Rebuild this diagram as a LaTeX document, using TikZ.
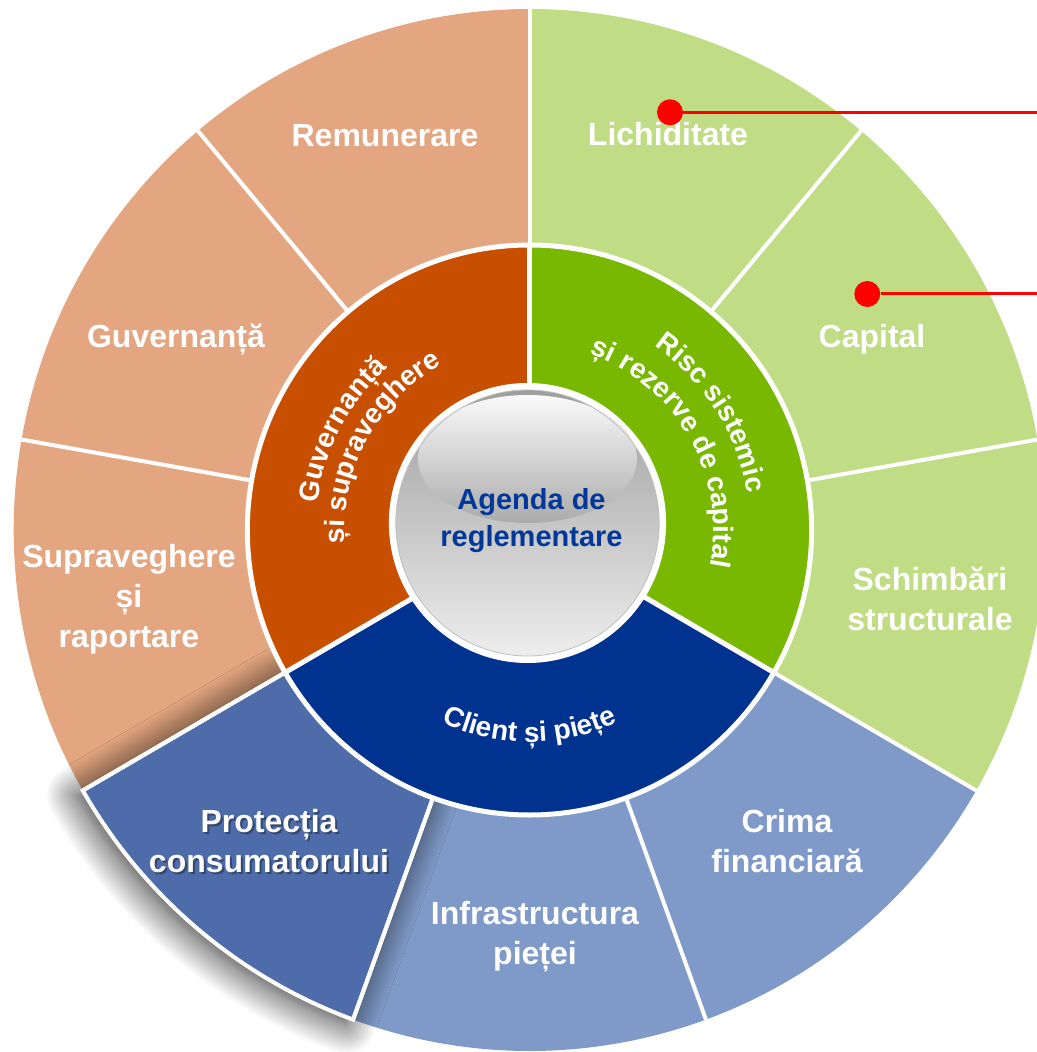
\documentclass[tikz,border=0pt]{standalone}
\usepackage{fontspec}
\setmainfont{Liberation Sans}
\usetikzlibrary{decorations.text,shadows.blur}
\definecolor{outerorange}{HTML}{E3A680}
\definecolor{midorange}{HTML}{C84E00}
\definecolor{outergreen}{HTML}{C0DC85}
\definecolor{midgreen}{HTML}{78B800}
\definecolor{midblue}{HTML}{00338F}
\definecolor{outerblue}{HTML}{7F9AC8}
\definecolor{protblue}{HTML}{4E6CA9}
\definecolor{agendablue}{HTML}{003799}
\definecolor{reddotcol}{HTML}{FF0000}
\newcommand\ringsector[4]{(#1:#3) arc[start angle=#1,end angle=#2,radius=#3] -- (#2:#4) arc[start angle=#2,end angle=#1,radius=#4] -- cycle}
\newcommand\midfont{\bfseries\fontsize{28}{30}\selectfont}
\begin{document}
\begin{tikzpicture}[x=0.99pt,y=1pt,
  outertext/.style={text=white, font=\bfseries\fontsize{32}{40}\selectfont, align=center, inner sep=0pt},
  reddot/.style={circle, fill=reddotcol, minimum size=26pt, inner sep=0pt},
  redline/.style={reddotcol, line width=3pt},
  divider/.style={white, line width=4pt},
  middivider/.style={white, line width=5pt},
  midlabel/.style={decorate, decoration={text along path, text align=center, text color=white, text={|\midfont|#1}}}
]
\useasboundingbox (-529.5pt,-522pt) rectangle (506.5pt,530pt);

% outer ring
\fill[outerorange] \ringsector{90}{130}{285}{521};
\fill[outerorange] \ringsector{130}{170}{285}{521};
\fill[outerorange] \ringsector{170}{210}{285}{521};
\fill[outergreen] \ringsector{50}{90}{285}{521};
\fill[outergreen] \ringsector{10}{50}{285}{521};
\fill[outergreen] \ringsector{-30}{10}{285}{521};
\fill[outerblue] \ringsector{-70}{-30}{285}{521};
\fill[outerblue] \ringsector{-110}{-70}{285}{521};
\fill[protblue, blur shadow={shadow xshift=-7pt,shadow yshift=-5pt,shadow blur radius=30pt,shadow blur steps=20,shadow opacity=80}] \ringsector{-150}{-110}{285}{521};
\draw[divider] \ringsector{-150}{-110}{285}{521};
\foreach \a in {90,50,10,-30,-70,-110,-150,170,130}
  \draw[divider] (\a:283) -- (\a:521);

% middle ring
\fill[midorange] \ringsector{90}{210}{100}{285};
\fill[midgreen] \ringsector{-30}{90}{100}{285};
\fill[midblue] \ringsector{210}{330}{100}{285};
\draw[middivider] (0,0) circle[radius=285];
\foreach \a in {90,-30,210}
  \draw[middivider] (\a:120) -- (\a:285);

% middle labels
\path[midlabel={Client și piețe}] (-150:212) arc[start angle=-150,end angle=-30,radius=212];
\path[midlabel={Risc sistemic}] (92.7:223) arc[start angle=92.7,end angle=-27.3,radius=223];
\path[midlabel={și rezerve de capital}] (90:186) arc[start angle=90,end angle=-30,radius=186];
\path[midlabel={Guvernanță}] (212:216) arc[start angle=212,end angle=92,radius=216];
\path[midlabel={și supraveghere}] (211:187) arc[start angle=211,end angle=91,radius=187];

% inner circle
\coordinate (ic) at (-2.02,7);
\fill[white] (ic) circle[radius=140];
\shade[top color=black!38, middle color=black!34, bottom color=black!7] (ic) circle[radius=133];
\shade[top color=black!2, bottom color=black!33] (-2.02,71) ellipse[x radius=110.6, y radius=64];
\draw[black!25, line width=0.8pt] (ic) circle[radius=133];
\node[text=agendablue, font=\bfseries\fontsize{29}{37}\selectfont, align=center, inner sep=0pt] (agenda) at (2pt,9pt) {Agenda de\\reglementare};

% outer labels
\node[outertext] (remun) at (-144.5pt,394pt) {Remunerare};
\node[outertext] (lichid) at (138.5pt,396pt) {Lichiditate};
\node[outertext] (guvern) at (-353.5pt,191pt) {Guvernanță};
\node[outertext] (capital) at (342.5pt,191pt) {Capital};
\node[outertext] (suprav) at (-400.5pt,-69pt) {Supraveghere\\și\\raportare};
\node[outertext] (schimb) at (400.5pt,-68.5pt) {Schimbări\\structurale};
\node[outertext, text=black, text opacity=0.35] (protshadow) at (-258.5pt,-313.5pt) {Protecția\\consumatorului};
\node[outertext] (protectia) at (-260.5pt,-311pt) {Protecția\\consumatorului};
\node[outertext] (crima) at (257.5pt,-311pt) {Crima\\financiară};
\node[outertext] (infra) at (5.5pt,-407pt) {Infrastructura\\pieței};

% red markers
\node[reddot] (d1) at (140.5pt,417.7pt) {};
\node[reddot] (d2) at (337.8pt,236pt) {};
\coordinate (e1) at (510pt,417.7pt);
\coordinate (e2) at (510pt,236pt);
\draw[redline] (d1) -- (e1);
\draw[redline] (d2) -- (e2);
\end{tikzpicture}
\end{document}
